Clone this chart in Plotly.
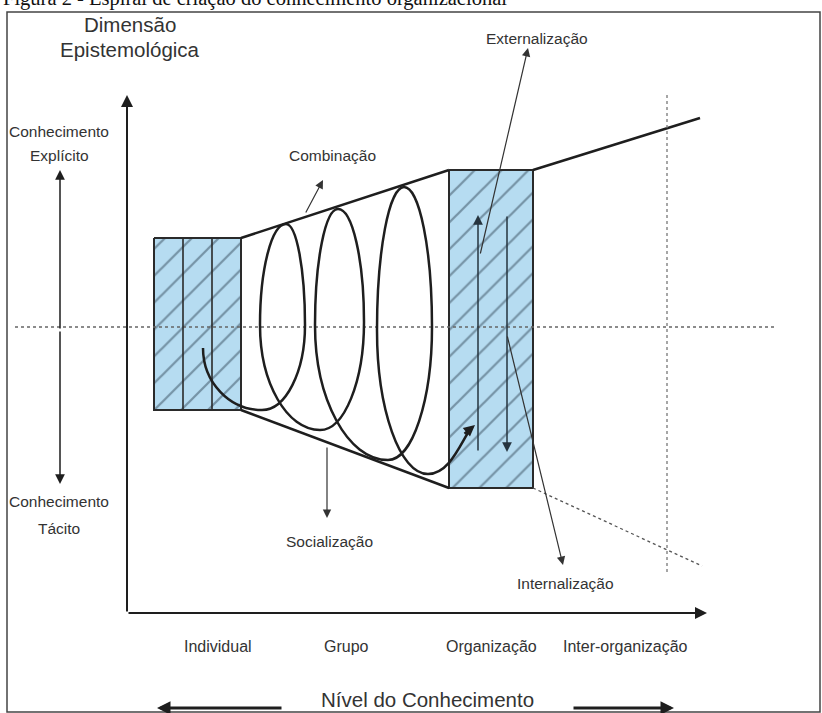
import plotly.graph_objects as go

# ---------------- data (diagram geometry, pixel space) ----------------
W, H = 822, 713
title_text = "Figura 2 - Espiral de criação do conhecimento organizacional"

level_labels = ["Individual", "Grupo", "Organização", "Inter-organização"]
level_x = [218, 346, 491, 625]
level_y = 646

mode_labels = ["Combinação", "Externalização", "Socialização", "Internalização"]
mode_label_x = [332, 537, 329, 565]
mode_label_y = [155, 38, 541, 583]
# arrows for the modes: (tail -> head)
mode_arrow_tail_x = [305, 480, 327, 507]
mode_arrow_tail_y = [214, 255, 446, 335]
mode_arrow_head_x = [323, 528, 327, 563]
mode_arrow_head_y = [180, 48, 518, 565]

# boxes (individual / organization)
left_box_x = [154, 241, 241, 154]
left_box_y = [238, 238, 410, 410]
left_dividers_x = [183, 212]
right_box_x = [449, 533, 533, 449]
right_box_y = [170, 170, 488, 488]

# funnel edges
upper_edge_x = [241, 449]
upper_edge_y = [238, 170]
upper_ext_x = [533, 700]
upper_ext_y = [170, 118]
lower_edge_x = [241, 449]
lower_edge_y = [410, 488]
lower_ext_x = [533, 702]
lower_ext_y = [488, 566]

# spiral key points (x, y, tangent type)
spiral_x = [203, 262, 305, 286, 260, 320, 364, 338, 315, 388, 432, 404, 377, 428]
spiral_y = [348, 410, 325, 224, 325, 430, 322, 209, 325, 460, 327, 187, 330, 474]
spiral_t = ["v", "h", "v", "h", "v", "h", "v", "h", "v", "h", "v", "h", "v", "h"]
spiral_end = (471, 428)

FONT = "Liberation Sans, Arial, sans-serif"
TXT = "#333333"
INK = "#1e1e1e"
BLUE = "#b6dcf1"
HATCH = "#34495a"

fig = go.Figure()

# hatched boxes
for bx, by in [(left_box_x, left_box_y), (right_box_x, right_box_y)]:
    fig.add_trace(go.Scatter(
        x=bx + [bx[0]], y=by + [by[0]], mode="lines", fill="toself",
        fillcolor=BLUE,
        fillpattern=dict(shape="/", size=19, solidity=0.12, fgcolor=HATCH, bgcolor=BLUE),
        line=dict(color="#2a2a2a", width=2), hoverinfo="skip", showlegend=False))

shapes = []
# frame
shapes.append(dict(type="rect", x0=7, y0=12, x1=820, y1=712,
                   line=dict(color="#444", width=1.5), layer="below"))

def seg(x0, y0, x1, y1, width=2.5, color=INK, dash="solid", layer="above"):
    shapes.append(dict(type="line", x0=x0, y0=y0, x1=x1, y1=y1,
                       line=dict(color=color, width=width, dash=dash), layer=layer))

seg(upper_edge_x[0], upper_edge_y[0], upper_edge_x[1], upper_edge_y[1])
seg(upper_ext_x[0], upper_ext_y[0], upper_ext_x[1], upper_ext_y[1])
seg(lower_edge_x[0], lower_edge_y[0], lower_edge_x[1], lower_edge_y[1])
seg(lower_ext_x[0], lower_ext_y[0], lower_ext_x[1], lower_ext_y[1], width=1.3, color="#555", dash="dot")
seg(15, 327, 775, 327, width=1.3, color="#666", dash="dot")
seg(667, 95, 667, 575, width=1.3, color="#777", dash="dot")
for dx in left_dividers_x:
    seg(dx, left_box_y[0], dx, left_box_y[2], width=1.6, color="#2a2a2a")

# spiral path
K = 0.5523
def ctrl(px, py, qx, qy, t):
    if t == "h":
        return px + K * (qx - px), py
    return px, py + K * (qy - py)

path = f"M {spiral_x[0]},{spiral_y[0]}"
for i in range(len(spiral_x) - 1):
    px, py, pt = spiral_x[i], spiral_y[i], spiral_t[i]
    qx, qy, qt = spiral_x[i + 1], spiral_y[i + 1], spiral_t[i + 1]
    c1 = ctrl(px, py, qx, qy, pt)
    c2 = ctrl(qx, qy, px, py, qt)
    path += f" C {c1[0]:.1f},{c1[1]:.1f} {c2[0]:.1f},{c2[1]:.1f} {qx},{qy}"
lx, ly = spiral_x[-1], spiral_y[-1]
path += f" C {lx + 22},{ly} {spiral_end[0] - 10},{spiral_end[1] + 14} {spiral_end[0]},{spiral_end[1]}"
shapes.append(dict(type="path", path=path, line=dict(color=INK, width=2.5), layer="above"))

annotations = []

def arrow(tx, ty, hx, hy, width=1.5, color=INK, head=2, size=1.0):
    annotations.append(dict(x=hx, y=hy, ax=tx, ay=ty, xref="x", yref="y", axref="x", ayref="y",
                            text="", showarrow=True, arrowhead=head, arrowsize=size,
                            arrowwidth=width, arrowcolor=color, standoff=0, startstandoff=0))

def label(x, y, text, size=15.5, anchor="center", family=FONT, color=TXT, yshift=0):
    annotations.append(dict(x=x, y=y, xref="x", yref="y", text=text, showarrow=False,
                            xanchor=anchor, yanchor="middle", yshift=yshift,
                            font=dict(family=family, size=size, color=color)))

# axes
arrow(127, 613, 127, 95, width=2, head=2, size=1.2)
arrow(127, 613, 707, 613, width=2, head=2, size=1.2)
# explicit / tacit double arrow
arrow(60, 330, 60, 170, width=1.5, size=1.3)
arrow(60, 330, 60, 484, width=1.5, size=1.3)
# knowledge level arrows
arrow(283, 708, 157, 708, width=3, size=0.9)
arrow(572, 708, 674, 708, width=3, size=0.9)
# organization internal arrows
arrow(478, 452, 478, 215, width=1.5, color="#26343f", size=1.3)
arrow(507, 215, 507, 452, width=1.5, color="#26343f", size=1.3)
# spiral head
arrow(spiral_end[0] - 8, spiral_end[1] + 7, spiral_end[0] + 4, spiral_end[1] - 3, width=2.5, size=0.9)
# mode arrows
for i in range(len(mode_labels)):
    arrow(mode_arrow_tail_x[i], mode_arrow_tail_y[i], mode_arrow_head_x[i], mode_arrow_head_y[i],
          width=1.2, color="#333", size=1.4)
    label(mode_label_x[i], mode_label_y[i], mode_labels[i], size=15.5)

for t, x in zip(level_labels, level_x):
    label(x, level_y, t, size=16)

label(130, 24, "Dimensão", size=20.5)
label(130, 49, "Epistemológica", size=20.5)
label(59, 131, "Conhecimento", size=15.5)
label(59, 155, "Explícito", size=15.5)
label(59, 501, "Conhecimento", size=15.5)
label(59, 528, "Tácito", size=15.5)
label(823, 630, "Dimensão", size=20.5, anchor="right")
label(823, 659, "Ontológica", size=20.5, anchor="right")
label(427, 699, "Nível do Conhecimento", size=20.5)
label(0.5, 1, title_text, size=20.5, anchor="left", family="Liberation Serif, Times New Roman, serif",
      color="#111", yshift=3)

fig.update_layout(
    width=W, height=H, autosize=False,
    margin=dict(l=0, r=0, t=0, b=0, pad=0),
    paper_bgcolor="white", plot_bgcolor="white",
    xaxis=dict(range=[0, W], visible=False, fixedrange=True),
    yaxis=dict(range=[H, 0], visible=False, fixedrange=True),
    shapes=shapes, annotations=annotations, showlegend=False,
)

fig.write_html("out.html", config={"displayModeBar": False},
               post_script="document.body.style.margin='0';document.body.style.overflow='hidden';")
